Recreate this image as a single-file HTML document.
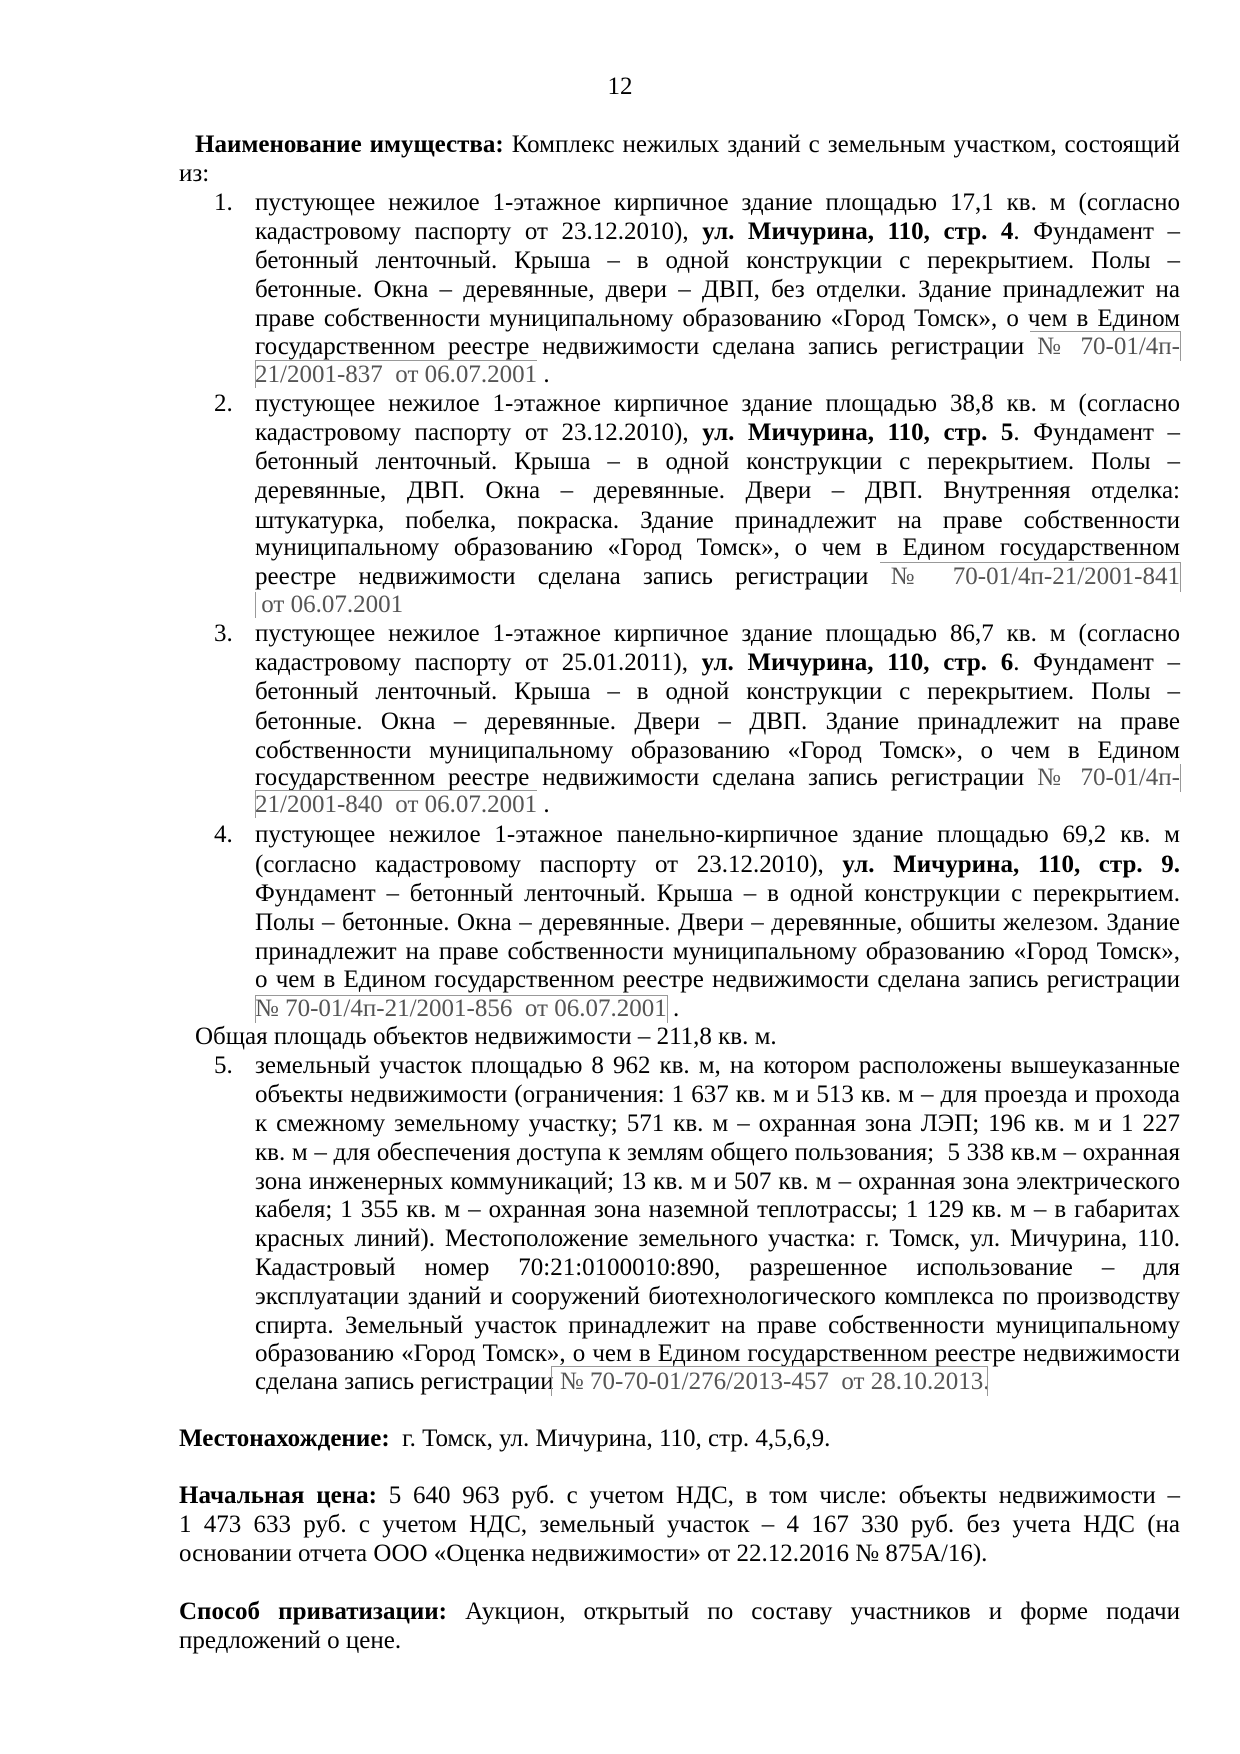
<!DOCTYPE html>
<html><head><meta charset="utf-8">
<style>
body{margin:0;background:#fff;}
#p{position:relative;width:1240px;height:1754px;background:#fff;font-family:"Liberation Serif","Noto Serif CJK SC",serif;font-size:25px;color:#000;overflow:hidden}
.l{position:absolute;height:28px;line-height:28px;white-space:nowrap}
.j{text-align:justify;text-align-last:justify}
.i{left:255px;width:925px}
.n{left:214px}
.g{color:#555}
.h{position:absolute;height:1px;background:#999}
.v{position:absolute;width:1px;background:#999}
</style></head><body><div id="p">
<div class="l" style="left:0;width:1240px;text-align:center;top:73px">12</div>

<div class="l j" style="left:195px;width:985px;top:131px"><b>Наименование имущества:</b> Комплекс нежилых зданий с земельным участком, состоящий</div>
<div class="l" style="left:179px;top:160px">из:</div>

<div class="l n" style="top:189px">1.</div>
<div class="l j i" style="top:189px">пустующее нежилое 1-этажное кирпичное здание площадью 17,1 кв. м (согласно</div>
<div class="l j i" style="top:218px">кадастровому паспорту от 23.12.2010), <b>ул. Мичурина, 110, стр. 4</b>. Фундамент –</div>
<div class="l j i" style="top:247px">бетонный ленточный. Крыша – в одной конструкции с перекрытием. Полы –</div>
<div class="l j i" style="top:276px">бетонные. Окна – деревянные, двери – ДВП, без отделки. Здание принадлежит на</div>
<div class="l j i" style="top:305px">праве собственности муниципальному образованию «Город Томск», о чем в Едином</div>
<div class="l j i" style="top:333px">государственном реестре недвижимости сделана запись регистрации <span class="g">№ 70-01/4п-</span></div>
<div class="l i" style="top:361px"><span class="g">21/2001-837&nbsp; от 06.07.2001</span> .</div>
<div class="h" style="left:1030px;width:150px;top:331px"></div>
<div class="v" style="left:1180px;top:331px;height:30px"></div>
<div class="h" style="left:255px;width:282px;top:360px"></div>
<div class="v" style="left:255px;top:360px;height:28px"></div>

<div class="l n" style="top:390px">2.</div>
<div class="l j i" style="top:390px">пустующее нежилое 1-этажное кирпичное здание площадью 38,8 кв. м (согласно</div>
<div class="l j i" style="top:419px">кадастровому паспорту от 23.12.2010), <b>ул. Мичурина, 110, стр. 5</b>. Фундамент –</div>
<div class="l j i" style="top:448px">бетонный ленточный. Крыша – в одной конструкции с перекрытием. Полы –</div>
<div class="l j i" style="top:477px">деревянные, ДВП. Окна – деревянные. Двери – ДВП. Внутренняя отделка:</div>
<div class="l j i" style="top:507px">штукатурка, побелка, покраска. Здание принадлежит на праве собственности</div>
<div class="l j i" style="top:534px">муниципальному образованию «Город Томск», о чем в Едином государственном</div>
<div class="l j i" style="top:563px">реестре недвижимости сделана запись регистрации <span class="g">№ 70-01/4п-21/2001-841</span></div>
<div class="l i" style="top:591px"><span class="g">&nbsp;от 06.07.2001</span></div>
<div class="h" style="left:880px;width:300px;top:562px"></div>
<div class="v" style="left:1180px;top:562px;height:30px"></div>
<div class="v" style="left:255px;top:592px;height:26px"></div>

<div class="l n" style="top:620px">3.</div>
<div class="l j i" style="top:620px">пустующее нежилое 1-этажное кирпичное здание площадью 86,7 кв. м (согласно</div>
<div class="l j i" style="top:649px">кадастровому паспорту от 25.01.2011), <b>ул. Мичурина, 110, стр. 6</b>. Фундамент –</div>
<div class="l j i" style="top:678px">бетонный ленточный. Крыша – в одной конструкции с перекрытием. Полы –</div>
<div class="l j i" style="top:708px">бетонные. Окна – деревянные. Двери – ДВП. Здание принадлежит на праве</div>
<div class="l j i" style="top:737px">собственности муниципальному образованию «Город Томск», о чем в Едином</div>
<div class="l j i" style="top:764px">государственном реестре недвижимости сделана запись регистрации <span class="g">№ 70-01/4п-</span></div>
<div class="l i" style="top:791px"><span class="g">21/2001-840&nbsp; от 06.07.2001</span> .</div>
<div class="h" style="left:255px;width:282px;top:790px"></div>
<div class="v" style="left:1180px;top:764px;height:28px"></div>
<div class="v" style="left:255px;top:790px;height:28px"></div>

<div class="l n" style="top:821px">4.</div>
<div class="l j i" style="top:821px">пустующее нежилое 1-этажное панельно-кирпичное здание площадью 69,2 кв. м</div>
<div class="l j i" style="top:851px">(согласно кадастровому паспорту от 23.12.2010), <b>ул. Мичурина, 110, стр. 9.</b></div>
<div class="l j i" style="top:880px">Фундамент – бетонный ленточный. Крыша – в одной конструкции с перекрытием.</div>
<div class="l j i" style="top:909px">Полы – бетонные. Окна – деревянные. Двери – деревянные, обшиты железом. Здание</div>
<div class="l j i" style="top:938px">принадлежит на праве собственности муниципальному образованию «Город Томск»,</div>
<div class="l j i" style="top:966px">о чем в Едином государственном реестре недвижимости сделана запись регистрации</div>
<div class="l i" style="top:995px"><span class="g">№ 70-01/4п-21/2001-856&nbsp; от 06.07.2001</span> .</div>
<div class="h" style="left:255px;width:412px;top:995px"></div>
<div class="v" style="left:255px;top:995px;height:28px"></div>
<div class="v" style="left:667px;top:995px;height:28px"></div>

<div class="l" style="left:195px;top:1023px">Общая площадь объектов недвижимости – 211,8 кв. м.</div>

<div class="l n" style="top:1052px">5.</div>
<div class="l j i" style="top:1052px">земельный участок площадью 8 962 кв. м, на котором расположены вышеуказанные</div>
<div class="l j i" style="top:1081px">объекты недвижимости (ограничения: 1 637 кв. м и 513 кв. м – для проезда и прохода</div>
<div class="l j i" style="top:1110px">к смежному земельному участку; 571 кв. м – охранная зона ЛЭП; 196 кв. м и 1 227</div>
<div class="l j i" style="top:1139px">кв. м – для обеспечения доступа к землям общего пользования;&nbsp; 5 338 кв.м – охранная</div>
<div class="l j i" style="top:1168px">зона инженерных коммуникаций; 13 кв. м и 507 кв. м – охранная зона электрического</div>
<div class="l j i" style="top:1196px">кабеля; 1 355 кв. м – охранная зона наземной теплотрассы; 1 129 кв. м – в габаритах</div>
<div class="l j i" style="top:1225px">красных линий). Местоположение земельного участка: г. Томск, ул. Мичурина, 110.</div>
<div class="l j i" style="top:1254px">Кадастровый номер 70:21:0100010:890, разрешенное использование – для</div>
<div class="l j i" style="top:1283px">эксплуатации зданий и сооружений биотехнологического комплекса по производству</div>
<div class="l j i" style="top:1312px">спирта. Земельный участок принадлежит на праве собственности муниципальному</div>
<div class="l j i" style="top:1340px">образованию «Город Томск», о чем в Едином государственном реестре недвижимости</div>
<div class="l i" style="top:1368px">сделана запись регистрации<span class="g"> № 70-70-01/276/2013-457&nbsp; от 28.10.2013.</span></div>
<div class="h" style="left:551px;width:436px;top:1366px"></div>
<div class="v" style="left:551px;top:1366px;height:30px"></div>
<div class="v" style="left:987px;top:1366px;height:30px"></div>

<div class="l" style="left:179px;top:1425px"><b>Местонахождение:</b>&nbsp; г. Томск, ул. Мичурина, 110, стр. 4,5,6,9.</div>

<div class="l j" style="left:179px;width:1001px;top:1482px"><b>Начальная цена:</b> 5 640 963 руб. с учетом НДС, в том числе: объекты недвижимости –</div>
<div class="l j" style="left:179px;width:1001px;top:1511px">1 473 633 руб. с учетом НДС, земельный участок – 4 167 330 руб. без учета НДС (на</div>
<div class="l" style="left:179px;top:1540px">основании отчета ООО «Оценка недвижимости» от 22.12.2016 № 875А/16).</div>

<div class="l j" style="left:179px;width:1001px;top:1598px"><b>Способ приватизации:</b> Аукцион, открытый по составу участников и форме подачи</div>
<div class="l" style="left:179px;top:1627px">предложений о цене.</div>
</div></body></html>
